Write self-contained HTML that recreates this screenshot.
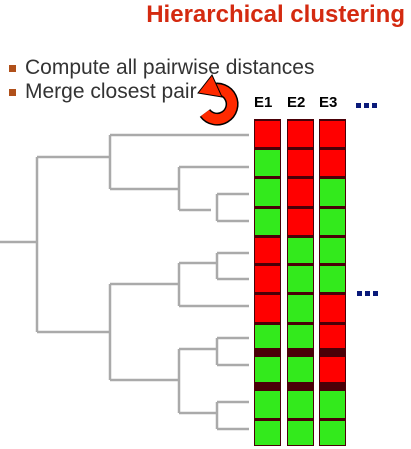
<!DOCTYPE html><html><head><style>
body{margin:0;width:411px;height:449px;background:#fff;position:relative;overflow:hidden;font-family:"Liberation Sans",sans-serif}
.t{position:absolute;white-space:nowrap}
</style></head><body>
<div class="t" style="right:6px;top:1px;color:#d42a10;font-weight:bold;font-size:24px">Hierarchical clustering</div>
<div class="t" style="left:9px;top:65px;width:7px;height:7px;background:#b0501a"></div>
<div class="t" style="left:9px;top:89px;width:7px;height:7px;background:#b0501a"></div>
<div class="t" style="left:25px;top:56px;color:#333;font-size:21px">Compute all pairwise distances</div>
<div class="t" style="left:25px;top:80px;color:#333;font-size:21px">Merge closest pair</div>
<div class="t" style="left:254px;top:94px;font-weight:bold;font-size:15px">E1</div>
<div class="t" style="left:287px;top:94px;font-weight:bold;font-size:15px">E2</div>
<div class="t" style="left:319px;top:94px;font-weight:bold;font-size:15px">E3</div>
<svg width="411" height="449" style="position:absolute;left:0;top:0">
<g fill="#0a1a7a"><rect x="356" y="103" width="5" height="5"/><rect x="364" y="103" width="5" height="5"/><rect x="372" y="103" width="5" height="5"/>
<rect x="357" y="291" width="5" height="5"/><rect x="365" y="291" width="5" height="5"/><rect x="373" y="291" width="5" height="5"/></g>
<g stroke="#aaa" stroke-width="2.5" fill="none">
<path d="M0 242H37M37 157V332M37 157H110M110 135V189M110 135H249M110 189H179M179 167V210M179 167H249M179 210H211M217 194V221M217 194H249M217 221H249"/>
<path d="M37 332H110M110 284V380M110 284H179M179 263V306M179 306H249M179 263H217M217 253V279M217 253H249M217 279H249"/>
<path d="M110 380H179M179 349V413M179 349H217M217 338V365M217 338H249M217 365H249M179 413H217M217 402V429M217 402H249M217 429H249"/>
</g>
<g id="cols"></g>
<path d="M212 90 A15 15 0 1 1 205 113" stroke="#000" stroke-width="13" fill="none"/>
<path d="M212 90 A15 15 0 1 1 205 113" stroke="#ff2a00" stroke-width="10" fill="none"/>
<polygon points="212,75 198,93 222,97" fill="#ff2a00" stroke="#000" stroke-width="1"/>
</svg>
<script>
var b=[119,148,177,207,236,264,293,323,353,387,419,446];
var c=[["RGGGRRRGGGG",254],["RRRRGGGGGGG",287],["RRGGGGRRRGG",319]];
var s="";
c.forEach(function(k){
s+='<rect x="'+k[1]+'" y="119" width="27" height="327" fill="#4a0008"/>';
for(var i=0;i<11;i++){var t=b[i]+2,h=b[i+1]-b[i]-3;if(i==7||i==8){h-=4}
if(i==8||i==9){t+=2;h-=2}
s+='<rect x="'+(k[1]+1)+'" y="'+t+'" width="25" height="'+h+'" fill="'+(k[0][i]=="R"?"#ff0000":"#33ea1c")+'"/>';}
});
document.getElementById("cols").innerHTML=s;
</script>
</body></html>
